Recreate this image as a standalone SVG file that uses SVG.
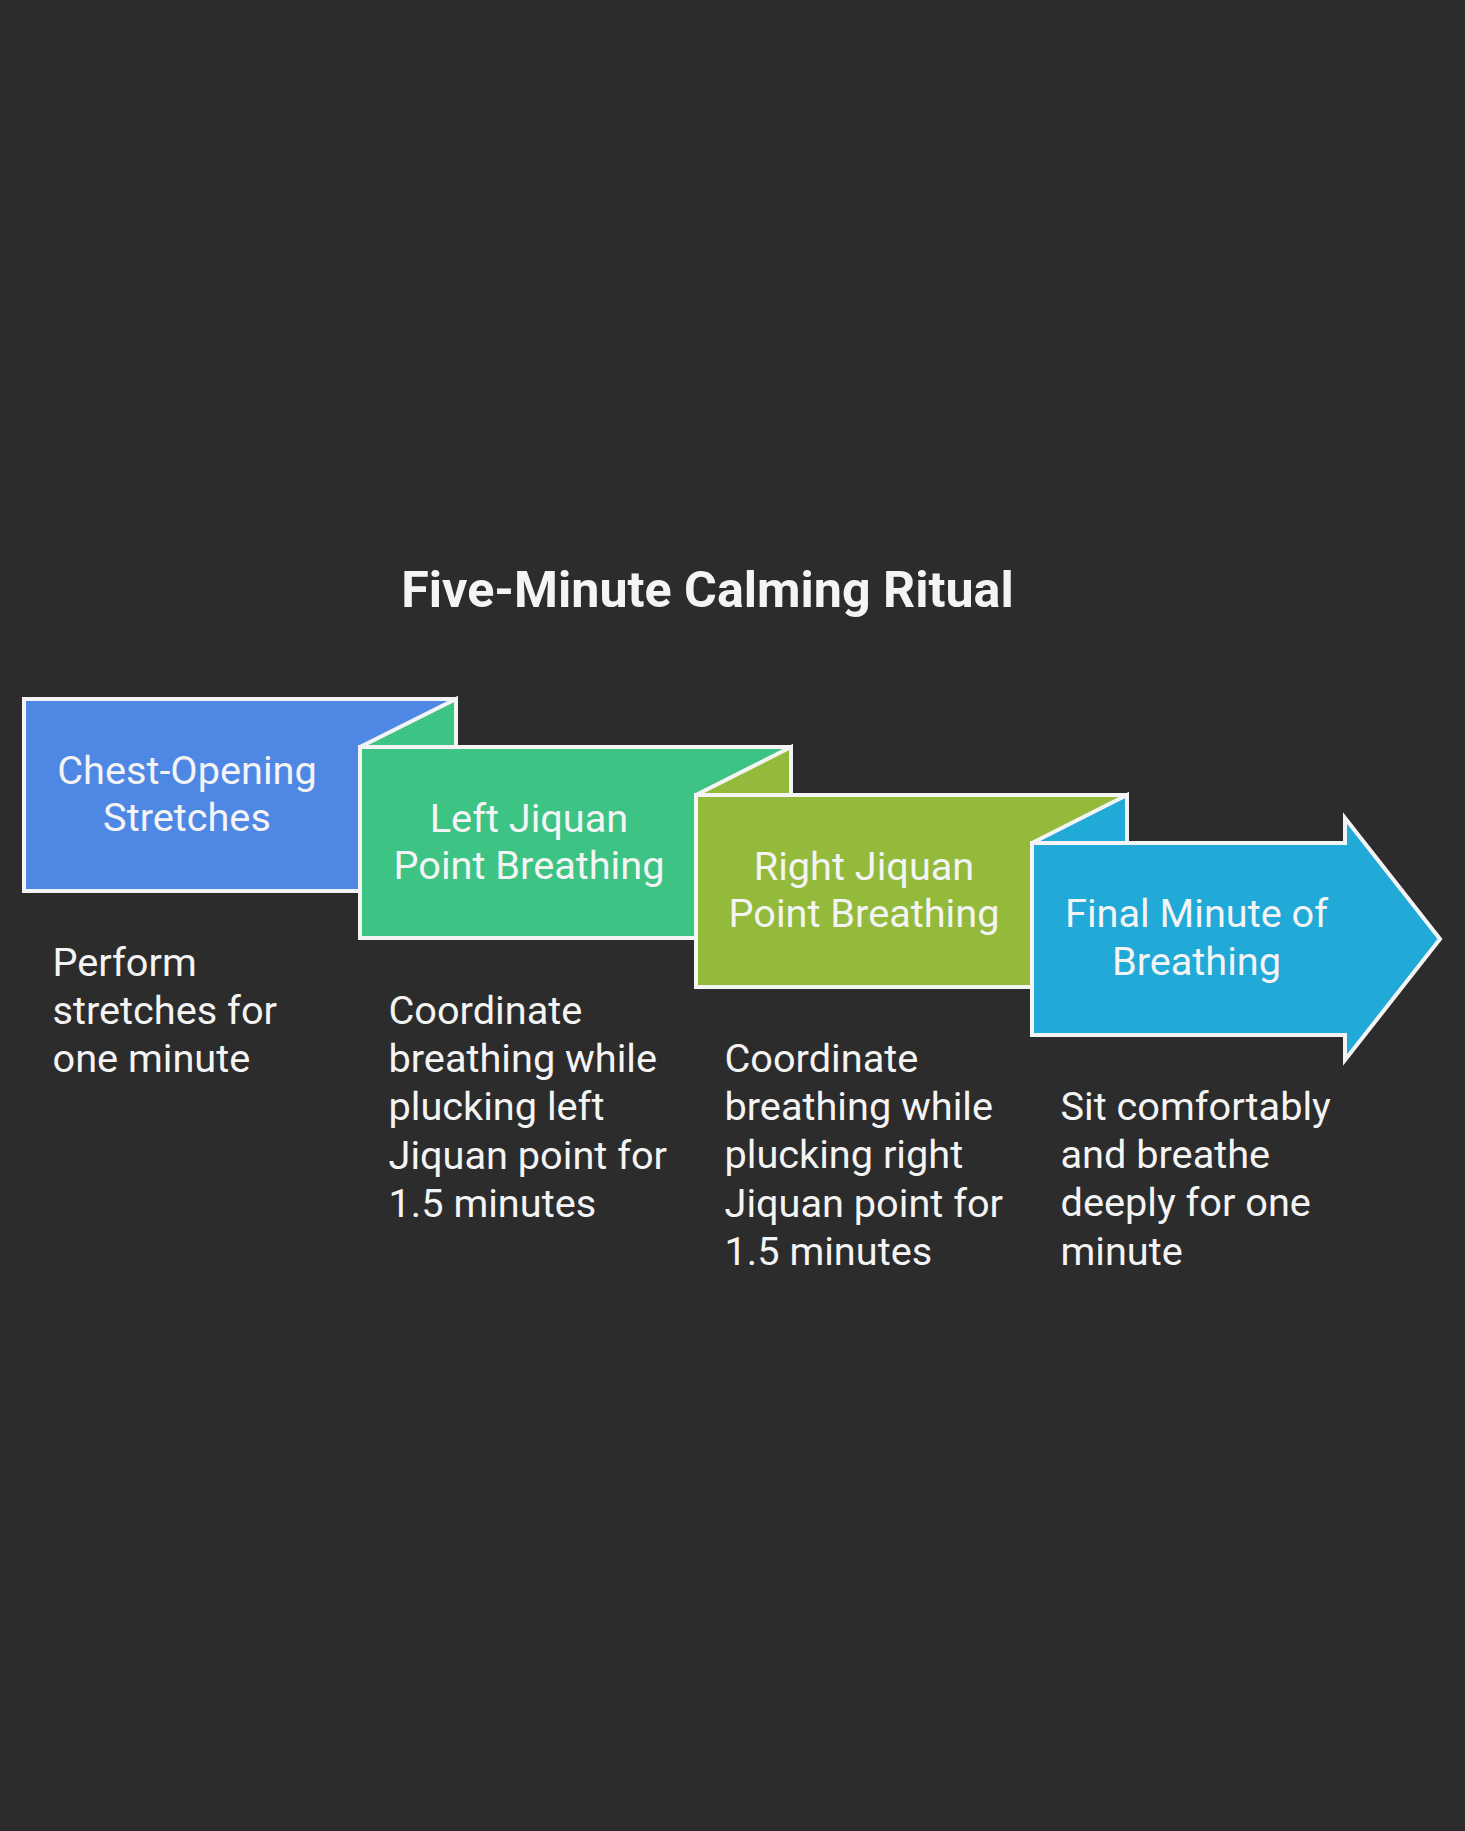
<svg xmlns="http://www.w3.org/2000/svg" width="1465" height="1831" viewBox="0 0 1465 1831">
<style>
.bg{fill:#2c2c2c}
.box{stroke:#f4f4f4;stroke-width:4;stroke-linejoin:miter}
.b1{fill:#4f88e4}
.b2{fill:#3dc383}
.b3{fill:#93ba3a}
.b4{fill:#21a9d7}
.lbl{font-family:Roboto,"Liberation Sans",sans-serif;font-size:39.7px;fill:#f4f4f4;text-anchor:middle}
.desc{font-family:Roboto,"Liberation Sans",sans-serif;font-size:39.7px;fill:#f4f4f4}
.title{font-family:Roboto,"Liberation Sans",sans-serif;font-size:50.2px;font-weight:bold;fill:#f4f4f4;text-anchor:middle}
</style>
<rect class="bg" x="0" y="0" width="1465" height="1831"/>
<text class="title" x="707.5" y="607">Five-Minute Calming Ritual</text>
<g id="connectors"></g>
<g id="node1">
<rect class="box b1" x="24" y="699" width="432" height="192"/>
<text class="lbl" x="187" y="783.8">Chest-Opening</text>
<text class="lbl" x="187" y="831.4">Stretches</text>
</g>
<g id="node2">
<polygon class="box b2" points="360,747 456,699 456,747"/>
<rect class="box b2" x="360" y="747" width="431" height="191"/>
<text class="lbl" x="529" y="831.8">Left Jiquan</text>
<text class="lbl" x="529" y="879.4">Point Breathing</text>
</g>
<g id="node3">
<polygon class="box b3" points="696,795 791,747 791,795"/>
<rect class="box b3" x="696" y="795" width="431" height="192"/>
<text class="lbl" x="864" y="879.8">Right Jiquan</text>
<text class="lbl" x="864" y="927.4">Point Breathing</text>
</g>
<g id="node4">
<polygon class="box b4" points="1032,843 1127,795 1127,843"/>
<polygon class="box b4" points="1032,843 1345,843 1345,818 1440,939 1345,1060 1345,1035 1032,1035"/>
<text class="lbl" x="1196.5" y="927.4">Final Minute of</text>
<text class="lbl" x="1196.5" y="975">Breathing</text>
</g>
<g id="desc1">
<text class="desc" x="52.5" y="975.8">Perform</text>
<text class="desc" x="52.5" y="1024">stretches for</text>
<text class="desc" x="52.5" y="1072.2">one minute</text>
</g>
<g id="desc2">
<text class="desc" x="388.5" y="1024">Coordinate</text>
<text class="desc" x="388.5" y="1072.2">breathing while</text>
<text class="desc" x="388.5" y="1120.4">plucking left</text>
<text class="desc" x="388.5" y="1168.6">Jiquan point for</text>
<text class="desc" x="388.5" y="1216.8">1.5 minutes</text>
</g>
<g id="desc3">
<text class="desc" x="724.5" y="1072">Coordinate</text>
<text class="desc" x="724.5" y="1120.2">breathing while</text>
<text class="desc" x="724.5" y="1168.4">plucking right</text>
<text class="desc" x="724.5" y="1216.6">Jiquan point for</text>
<text class="desc" x="724.5" y="1264.8">1.5 minutes</text>
</g>
<g id="desc4">
<text class="desc" x="1060.5" y="1120">Sit comfortably</text>
<text class="desc" x="1060.5" y="1168.2">and breathe</text>
<text class="desc" x="1060.5" y="1216.4">deeply for one</text>
<text class="desc" x="1060.5" y="1264.6">minute</text>
</g>
</svg>
